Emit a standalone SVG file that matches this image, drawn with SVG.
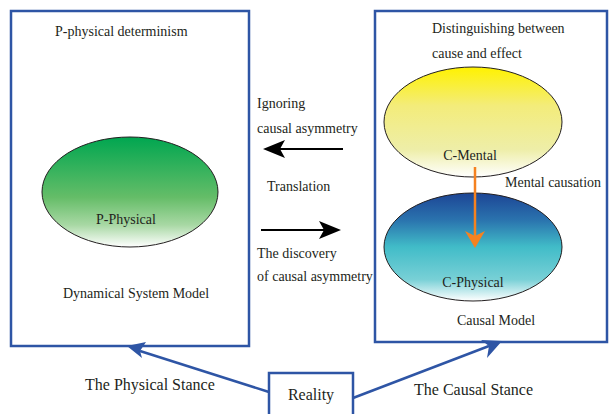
<svg xmlns="http://www.w3.org/2000/svg" width="609" height="414" viewBox="0 0 609 414" font-family="'Liberation Serif', 'DejaVu Serif', serif">
<defs>
<style>
text{font-family:'Liberation Serif','DejaVu Serif',serif;fill:#231f20;font-size:14px}
.big{font-size:16px}
.box{fill:none;stroke:#2e55a5;stroke-width:2.5}
.blue{fill:none;stroke:#2e55a5;stroke-width:2.5}
.blk{fill:none;stroke:#000;stroke-width:2.2}
.ell{stroke:#231f20;stroke-width:1}
</style>
<linearGradient id="gGreen" x1="0" y1="0" x2="0" y2="1">
<stop offset="0" stop-color="#00a650"/>
<stop offset="0.55" stop-color="#65bd68"/>
<stop offset="0.8" stop-color="#a8d8a4"/>
<stop offset="1" stop-color="#ffffff"/>
</linearGradient>
<linearGradient id="gYellow" x1="0" y1="0" x2="0" y2="1">
<stop offset="0" stop-color="#fff200"/>
<stop offset="0.35" stop-color="#f3ec7a"/>
<stop offset="0.75" stop-color="#eeeea8"/>
<stop offset="1" stop-color="#ffffff"/>
</linearGradient>
<linearGradient id="gBlue" x1="0" y1="0" x2="0" y2="1">
<stop offset="0" stop-color="#1d4595"/>
<stop offset="0.25" stop-color="#2a73ae"/>
<stop offset="0.5" stop-color="#41bcc8"/>
<stop offset="0.8" stop-color="#78d0d6"/>
<stop offset="1" stop-color="#ffffff"/>
</linearGradient>
</defs>

<g id="physical-box">
<rect class="box" x="11" y="11" width="238" height="335"/>
<text x="55" y="36">P-physical determinism</text>
<text x="63" y="298">Dynamical System Model</text>
</g>
<g id="p-physical">
<ellipse class="ell" cx="130" cy="192" rx="88" ry="55" fill="url(#gGreen)"/>
<text x="126" y="224" text-anchor="middle">P-Physical</text>
</g>

<g id="causal-box">
<rect class="box" x="375" y="11" width="232" height="331"/>
<text x="432" y="33">Distinguishing between</text>
<text x="432" y="58">cause and effect</text>
<text x="457" y="325">Causal Model</text>
</g>
<g id="c-mental">
<ellipse class="ell" cx="473" cy="122" rx="89" ry="55" fill="url(#gYellow)"/>
<text x="470" y="160" text-anchor="middle">C-Mental</text>
</g>
<g id="c-physical">
<ellipse class="ell" cx="473" cy="247" rx="89" ry="54" fill="url(#gBlue)"/>
<text x="473" y="287" text-anchor="middle">C-Physical</text>
</g>

<g id="reality">
<rect class="box" x="269" y="373" width="84" height="45"/>
<text class="big" x="311" y="400" text-anchor="middle">Reality</text>
</g>

<g id="connectors">
<line class="blk" x1="343" y1="149" x2="280" y2="149"/>
<path d="M263,149 L285,140 L280,149 L285,158 Z" fill="#000"/>
<line class="blk" x1="261" y1="230" x2="324" y2="230"/>
<path d="M341,230 L319,221 L324,230 L319,239 Z" fill="#000"/>
<line x1="475" y1="167" x2="475" y2="236" stroke="#f58220" stroke-width="2.5"/>
<path d="M475,248 L465,231 L475,236 L485,231 Z" fill="#f58220"/>
<line class="blue" x1="269" y1="392" x2="140" y2="351"/>
<path d="M127,346 L146,342 L140,351 L142,358 Z" fill="#2e55a5"/>
<line class="blue" x1="353" y1="398" x2="489" y2="346"/>
<path d="M502,341 L487,358 L489,346 L481,340 Z" fill="#2e55a5"/>
</g>

<g id="labels">
<text x="257" y="108">Ignoring</text>
<text x="257" y="133">causal asymmetry</text>
<text x="267" y="191">Translation</text>
<text x="257" y="258">The discovery</text>
<text x="257" y="281">of causal asymmetry</text>
<text x="505" y="187">Mental causation</text>
<text class="big" x="85" y="390">The Physical Stance</text>
<text class="big" x="414" y="395">The Causal Stance</text>
</g>
</svg>
